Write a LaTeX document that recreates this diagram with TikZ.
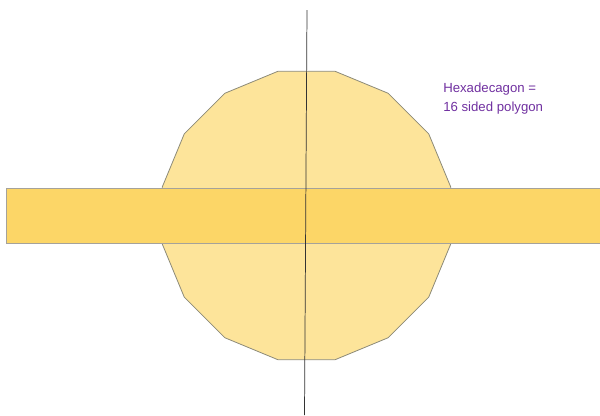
\documentclass[tikz,border=0pt]{standalone}
\usepackage{fontspec}
\setmainfont{Liberation Sans}
\usetikzlibrary{calc}
\definecolor{polyfill}{HTML}{FDE49A}
\definecolor{polyedge}{HTML}{8C8A78}
\definecolor{barfill}{HTML}{FCD667}
\definecolor{baredge}{HTML}{A5A29A}
\definecolor{labelpurple}{HTML}{7030A0}
\tikzset{
  hexa/.style={fill=polyfill, draw=polyedge, line width=0.6pt},
  bar/.style={fill=barfill, draw=baredge, line width=0.6pt},
  axis/.style={draw=black!80, line width=0.55pt},
  lbl/.style={text=labelpurple, font=\fontsize{9.9}{14.2}\selectfont, align=left, anchor=north west, inner sep=0pt}
}
\begin{document}
\begin{tikzpicture}[x=0.75pt,y=-0.75pt]
\useasboundingbox (0,0) rectangle (600,415);
% regular 16-gon, center (306.5,215.5), radius 147
\coordinate (c) at (306.5,215.5);
\draw[hexa] ($(c)+(11.25:147)$)
  \foreach \k in {1,...,15}{ -- ($(c)+({11.25+22.5*\k}:147)$) } -- cycle;
\node[bar, minimum width=600*0.75pt, minimum height=55*0.75pt, inner sep=0pt, anchor=north west] (band) at (6,188) {};
\coordinate (top) at (307,10);
\coordinate (bot) at (304.5,415);
\draw[axis] (top) -- (bot);
\node[lbl] (label) at (443,82.5) {Hexadecagon =\\16 sided polygon};
\end{tikzpicture}
\end{document}
